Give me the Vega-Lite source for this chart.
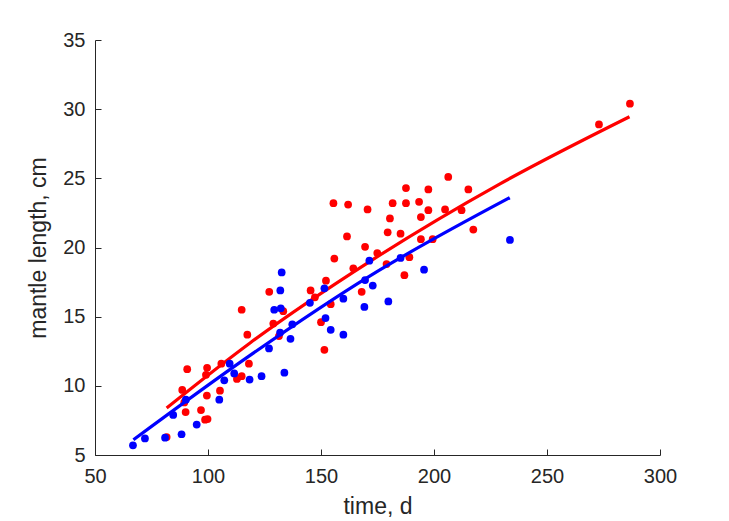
{
  "$schema": "https://vega.github.io/schema/vega-lite/v6.json",
  "autosize": "none",
  "width": 565,
  "height": 415,
  "padding": {"left": 95, "top": 40, "right": 69, "bottom": 66},
  "background": "white",
  "config": {
    "view": {"stroke": null},
    "font": "Liberation Sans",
    "axis": {
      "domainColor": "#262626",
      "tickColor": "#262626",
      "labelColor": "#262626",
      "titleColor": "#262626",
      "labelFont": "Liberation Sans",
      "titleFont": "Liberation Sans",
      "labelFontSize": 20,
      "titleFontSize": 23,
      "titleFontWeight": "normal",
      "grid": false,
      "labelFlush": false,
      "domainWidth": 1,
      "tickWidth": 1
    }
  },
  "datasets": {
    "pts": [
      {"g": "red", "t": 81.7, "ml": 6.3}, {"g": "red", "t": 88.6, "ml": 9.7}, {"g": "red", "t": 90.8, "ml": 11.2},
      {"g": "red", "t": 90.1, "ml": 8.1}, {"g": "red", "t": 89.5, "ml": 8.8}, {"g": "red", "t": 96.9, "ml": 8.25},
      {"g": "red", "t": 98.7, "ml": 7.55}, {"g": "red", "t": 99.8, "ml": 7.6}, {"g": "red", "t": 99.5, "ml": 9.3},
      {"g": "red", "t": 99.6, "ml": 11.3}, {"g": "red", "t": 99.1, "ml": 10.8}, {"g": "red", "t": 105.3, "ml": 9.65},
      {"g": "red", "t": 105.9, "ml": 11.6}, {"g": "red", "t": 112.8, "ml": 10.5}, {"g": "red", "t": 114.9, "ml": 10.7},
      {"g": "red", "t": 114.9, "ml": 15.5}, {"g": "red", "t": 117.4, "ml": 13.7}, {"g": "red", "t": 118.1, "ml": 11.6},
      {"g": "red", "t": 127.1, "ml": 16.8}, {"g": "red", "t": 128.9, "ml": 14.5}, {"g": "red", "t": 131.4, "ml": 13.6},
      {"g": "red", "t": 133.3, "ml": 15.4}, {"g": "red", "t": 145.4, "ml": 16.9}, {"g": "red", "t": 147.3, "ml": 16.4},
      {"g": "red", "t": 150.0, "ml": 14.6}, {"g": "red", "t": 151.5, "ml": 12.6}, {"g": "red", "t": 152.2, "ml": 17.6},
      {"g": "red", "t": 154.3, "ml": 15.9}, {"g": "red", "t": 155.5, "ml": 23.2}, {"g": "red", "t": 155.9, "ml": 19.2},
      {"g": "red", "t": 161.5, "ml": 20.8}, {"g": "red", "t": 162.0, "ml": 23.1}, {"g": "red", "t": 164.3, "ml": 18.5},
      {"g": "red", "t": 168.0, "ml": 16.8}, {"g": "red", "t": 169.5, "ml": 20.05}, {"g": "red", "t": 170.6, "ml": 22.75},
      {"g": "red", "t": 174.9, "ml": 19.6}, {"g": "red", "t": 179.0, "ml": 18.8}, {"g": "red", "t": 179.5, "ml": 21.1},
      {"g": "red", "t": 180.5, "ml": 22.1}, {"g": "red", "t": 181.7, "ml": 23.2}, {"g": "red", "t": 185.2, "ml": 21.0},
      {"g": "red", "t": 186.9, "ml": 18.0}, {"g": "red", "t": 187.6, "ml": 24.3}, {"g": "red", "t": 187.6, "ml": 23.2},
      {"g": "red", "t": 189.1, "ml": 19.3}, {"g": "red", "t": 193.4, "ml": 23.3}, {"g": "red", "t": 194.2, "ml": 22.2},
      {"g": "red", "t": 194.2, "ml": 20.6}, {"g": "red", "t": 197.5, "ml": 24.2}, {"g": "red", "t": 197.5, "ml": 22.7},
      {"g": "red", "t": 199.4, "ml": 20.6}, {"g": "red", "t": 204.9, "ml": 22.75}, {"g": "red", "t": 206.3, "ml": 25.1},
      {"g": "red", "t": 212.2, "ml": 22.7}, {"g": "red", "t": 215.2, "ml": 24.2}, {"g": "red", "t": 217.4, "ml": 21.3},
      {"g": "red", "t": 273.0, "ml": 28.9}, {"g": "red", "t": 286.7, "ml": 30.4},
      {"g": "blue", "t": 66.8, "ml": 5.7}, {"g": "blue", "t": 72.1, "ml": 6.2}, {"g": "blue", "t": 81.0, "ml": 6.25},
      {"g": "blue", "t": 84.6, "ml": 7.9}, {"g": "blue", "t": 88.3, "ml": 6.5}, {"g": "blue", "t": 90.2, "ml": 9.0},
      {"g": "blue", "t": 95.0, "ml": 7.2}, {"g": "blue", "t": 105.0, "ml": 9.0}, {"g": "blue", "t": 107.2, "ml": 10.4},
      {"g": "blue", "t": 109.6, "ml": 11.6}, {"g": "blue", "t": 111.6, "ml": 10.9}, {"g": "blue", "t": 118.4, "ml": 10.45},
      {"g": "blue", "t": 123.7, "ml": 10.7}, {"g": "blue", "t": 127.0, "ml": 12.7}, {"g": "blue", "t": 129.3, "ml": 15.5},
      {"g": "blue", "t": 131.9, "ml": 13.85}, {"g": "blue", "t": 132.2, "ml": 15.6}, {"g": "blue", "t": 132.0, "ml": 16.9},
      {"g": "blue", "t": 132.6, "ml": 18.2}, {"g": "blue", "t": 133.8, "ml": 10.95}, {"g": "blue", "t": 136.5, "ml": 13.4},
      {"g": "blue", "t": 137.3, "ml": 14.45}, {"g": "blue", "t": 145.1, "ml": 16.0}, {"g": "blue", "t": 151.5, "ml": 17.05},
      {"g": "blue", "t": 152.0, "ml": 14.9}, {"g": "blue", "t": 154.3, "ml": 14.05}, {"g": "blue", "t": 159.9, "ml": 16.3},
      {"g": "blue", "t": 159.9, "ml": 13.7}, {"g": "blue", "t": 169.2, "ml": 15.7}, {"g": "blue", "t": 169.5, "ml": 17.65},
      {"g": "blue", "t": 171.4, "ml": 19.05}, {"g": "blue", "t": 172.9, "ml": 17.25}, {"g": "blue", "t": 179.8, "ml": 16.1},
      {"g": "blue", "t": 185.2, "ml": 19.25}, {"g": "blue", "t": 195.6, "ml": 18.4}, {"g": "blue", "t": 233.6, "ml": 20.55}
    ],
    "fit": [
      {"g": "red", "t": 81.7, "ml": 8.4}, {"g": "red", "t": 118.6, "ml": 13.1}, {"g": "red", "t": 171.7, "ml": 19.0},
      {"g": "red", "t": 229.2, "ml": 24.6}, {"g": "red", "t": 286.5, "ml": 29.45},
      {"g": "blue", "t": 67.0, "ml": 6.1}, {"g": "blue", "t": 118.6, "ml": 12.2}, {"g": "blue", "t": 171.7, "ml": 17.95},
      {"g": "blue", "t": 233.5, "ml": 23.6}
    ]
  },
  "layer": [
    {
      "data": {"name": "pts"},
      "transform": [{"filter": "datum.g === 'red'"}],
      "mark": {"type": "circle", "size": 60, "opacity": 1, "color": "#FF0000"},
      "encoding": {
        "x": {"field": "t", "type": "quantitative", "scale": {"domain": [50, 300], "nice": false, "zero": false},
              "axis": {"title": "time, d", "values": [50, 100, 150, 200, 250, 300], "tickSize": -6, "labelPadding": 17, "titlePadding": 9}},
        "y": {"field": "ml", "type": "quantitative", "scale": {"domain": [5, 35], "nice": false, "zero": false},
              "axis": {"title": "mantle length, cm", "values": [5, 10, 15, 20, 25, 30, 35], "tickSize": -6, "labelPadding": 16, "titlePadding": 12}}
      }
    },
    {
      "data": {"name": "fit"},
      "transform": [{"filter": "datum.g === 'red'"}],
      "mark": {"type": "line", "strokeWidth": 3.2, "color": "#FF0000", "interpolate": "monotone"},
      "encoding": {
        "x": {"field": "t", "type": "quantitative"},
        "y": {"field": "ml", "type": "quantitative"}
      }
    },
    {
      "data": {"name": "pts"},
      "transform": [{"filter": "datum.g === 'blue'"}],
      "mark": {"type": "circle", "size": 60, "opacity": 1, "color": "#0000FF"},
      "encoding": {
        "x": {"field": "t", "type": "quantitative"},
        "y": {"field": "ml", "type": "quantitative"}
      }
    },
    {
      "data": {"name": "fit"},
      "transform": [{"filter": "datum.g === 'blue'"}],
      "mark": {"type": "line", "strokeWidth": 3.2, "color": "#0000FF", "interpolate": "monotone"},
      "encoding": {
        "x": {"field": "t", "type": "quantitative"},
        "y": {"field": "ml", "type": "quantitative"}
      }
    }
  ]
}
